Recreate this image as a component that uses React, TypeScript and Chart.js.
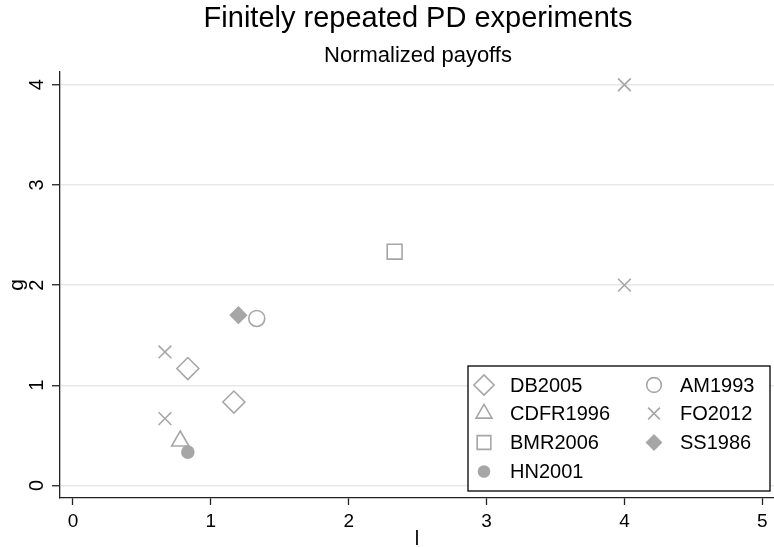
import React, { useEffect, useRef } from 'react';
import { Chart, registerables } from 'chart.js';
import { drawPoint } from 'chart.js/helpers';

Chart.register(...registerables);

const TITLE = 'Finitely repeated PD experiments';
const SUBTITLE = 'Normalized payoffs';
const X_TITLE = 'l';
const Y_TITLE = 'g';
const X_TICKS = [0, 1, 2, 3, 4, 5];
const Y_TICKS = [0, 1, 2, 3, 4];

const DB2005 = [{ x: 0.833, y: 1.167 }, { x: 1.167, y: 0.833 }];
const AM1993 = [{ x: 1.333, y: 1.667 }];
const CDFR1996 = [{ x: 0.778, y: 0.444 }];
const FO2012 = [{ x: 0.667, y: 1.333 }, { x: 0.667, y: 0.667 }, { x: 4, y: 4 }, { x: 4, y: 2 }];
const BMR2006 = [{ x: 2.333, y: 2.333 }];
const SS1986 = [{ x: 1.2, y: 1.7 }];
const HN2001 = [{ x: 0.833, y: 0.333 }];

const FONT = '"Liberation Sans", Arial, Helvetica, sans-serif';
const GRAY = '#a6a6a6';

type Series = { label: string; data: { x: number; y: number }[]; style: string; radius: number; filled: boolean; col: number; row: number };

const SERIES: Series[] = [
  { label: 'DB2005', data: DB2005, style: 'rectRot', radius: 11, filled: false, col: 0, row: 0 },
  { label: 'CDFR1996', data: CDFR1996, style: 'triangle', radius: 10, filled: false, col: 0, row: 1 },
  { label: 'BMR2006', data: BMR2006, style: 'rect', radius: 10.5, filled: false, col: 0, row: 2 },
  { label: 'HN2001', data: HN2001, style: 'circle', radius: 6, filled: true, col: 0, row: 3 },
  { label: 'AM1993', data: AM1993, style: 'circle', radius: 8, filled: false, col: 1, row: 0 },
  { label: 'FO2012', data: FO2012, style: 'crossRot', radius: 9, filled: false, col: 1, row: 1 },
  { label: 'SS1986', data: SS1986, style: 'rectRot', radius: 8, filled: true, col: 1, row: 2 },
];

const overlay = {
  id: 'overlay',
  afterDraw(chart: any) {
    const ctx: CanvasRenderingContext2D = chart.ctx;
    const xs = chart.scales.x;
    const ys = chart.scales.y;
    const area = chart.chartArea;
    ctx.save();
    ctx.fillStyle = '#000';
    ctx.textAlign = 'center';
    ctx.textBaseline = 'alphabetic';
    ctx.font = `29px ${FONT}`;
    ctx.fillText(TITLE, 418, 27);
    ctx.font = `22px ${FONT}`;
    ctx.fillText(SUBTITLE, 418, 62);

    ctx.font = `19px ${FONT}`;
    X_TICKS.forEach((v) => ctx.fillText(String(v), xs.getPixelForValue(v), 527));
    ctx.font = `20px ${FONT}`;
    Y_TICKS.forEach((v) => {
      ctx.save();
      ctx.translate(42.5, ys.getPixelForValue(v));
      ctx.rotate(-Math.PI / 2);
      ctx.fillText(String(v), 0, 0);
      ctx.restore();
    });
    ctx.font = `20px ${FONT}`;
    ctx.fillText(X_TITLE, (area.left + area.right) / 2, 545);
    ctx.save();
    ctx.font = `21px ${FONT}`;
    ctx.translate(22.5, (area.top + area.bottom) / 2);
    ctx.rotate(-Math.PI / 2);
    ctx.fillText(Y_TITLE, 0, 0);
    ctx.restore();

    // legend
    const bx = 468, by = 366, bw = 302, bh = 125;
    ctx.fillStyle = '#fff';
    ctx.fillRect(bx, by, bw, bh);
    ctx.strokeStyle = '#000';
    ctx.lineWidth = 1.3;
    ctx.strokeRect(bx, by, bw, bh);
    const colMarker = [484, 654];
    const colText = [510, 680];
    const rowY = [385, 413.5, 442.5, 471.5];
    ctx.font = `20px ${FONT}`;
    ctx.textAlign = 'left';
    ctx.textBaseline = 'middle';
    SERIES.forEach((s) => {
      const y = rowY[s.row];
      ctx.save();
      ctx.strokeStyle = GRAY;
      ctx.fillStyle = s.filled ? GRAY : 'rgba(0,0,0,0)';
      ctx.lineWidth = 1.6;
      drawPoint(ctx, { pointStyle: s.style as any, radius: s.radius * 0.92, rotation: 0, borderWidth: 1.6 } as any, colMarker[s.col], y);
      ctx.restore();
      ctx.fillStyle = '#000';
      ctx.fillText(s.label, colText[s.col], y + 1);
    });
    ctx.restore();
  },
};

export default function App() {
  const ref = useRef<HTMLCanvasElement>(null);
  useEffect(() => {
    const chart = new Chart(ref.current as HTMLCanvasElement, {
      type: 'scatter',
      data: {
        datasets: SERIES.map((s) => ({
          label: s.label,
          data: s.data,
          pointStyle: s.style as any,
          pointRadius: s.radius,
          pointHoverRadius: s.radius,
          pointBorderWidth: 1.6,
          borderColor: GRAY,
          backgroundColor: s.filled ? GRAY : 'rgba(0,0,0,0)',
          clip: false as any,
        })),
      },
      options: {
        responsive: false,
        animation: false,
        devicePixelRatio: 1,
        events: [],
        layout: { autoPadding: false, padding: { left: 52, top: 72, right: 0, bottom: 42 } },
        plugins: { legend: { display: false }, title: { display: false }, tooltip: { enabled: false } },
        scales: {
          x: {
            type: 'linear',
            min: -0.0943,
            max: 5.085,
            afterBuildTicks: (s: any) => { s.ticks = X_TICKS.map((v) => ({ value: v })); },
            ticks: { display: false },
            grid: { drawOnChartArea: false, drawTicks: true, tickLength: 7, tickColor: '#222', tickWidth: 1.3 },
            border: { display: true, color: '#222', width: 1.3 },
          },
          y: {
            type: 'linear',
            min: -0.125,
            max: 4.127,
            afterBuildTicks: (s: any) => { s.ticks = Y_TICKS.map((v) => ({ value: v })); },
            ticks: { display: false },
            grid: { color: '#e8e8e8', lineWidth: 1.5, drawTicks: true, tickLength: 8, tickColor: '#222', tickWidth: 1.3 },
            border: { display: true, color: '#222', width: 1.3 },
          },
        },
      },
      plugins: [overlay],
    });
    return () => chart.destroy();
  }, []);
  return (
    <div style={{ position: 'absolute', left: 0, top: 0, width: 774, height: 547, background: '#fff' }}>
      <canvas ref={ref} width={774} height={547} style={{ display: 'block' }} />
    </div>
  );
}
